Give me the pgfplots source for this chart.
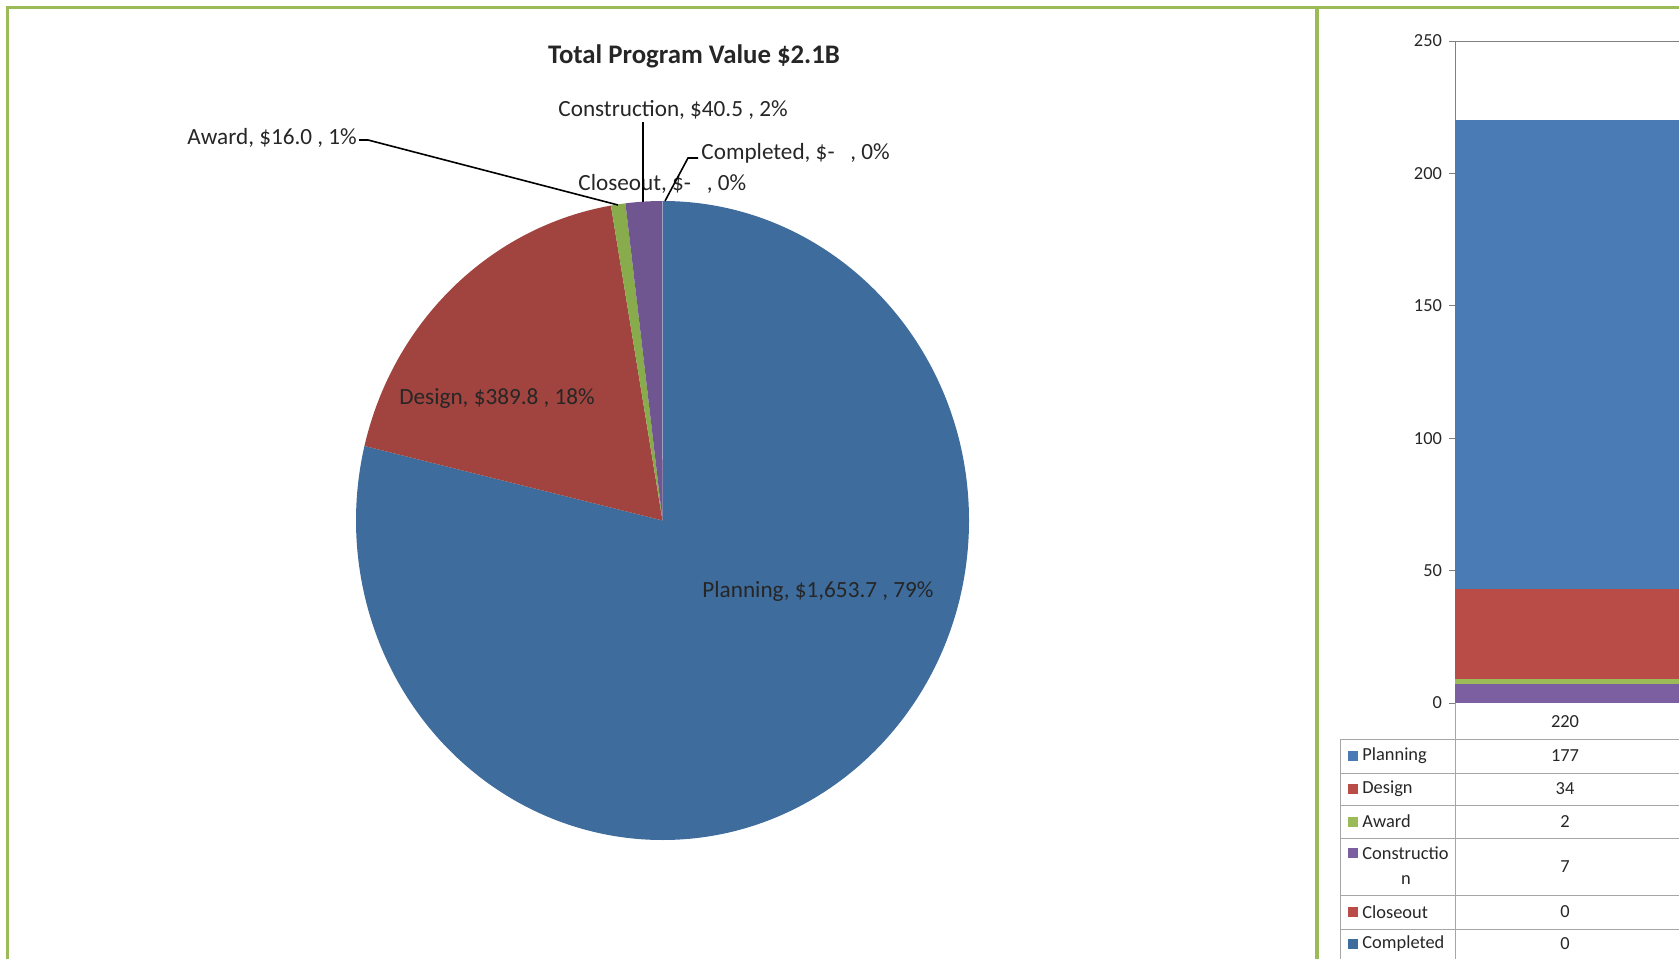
\documentclass[border=0pt]{standalone}
\usepackage{pgfplots}
\pgfplotsset{compat=1.18}
\usepackage{fontspec}
\setmainfont{Carlito}
\definecolor{frameG}{HTML}{9BBB59}
\definecolor{pieBlue}{HTML}{3E6C9D}
\definecolor{pieRed}{HTML}{A1443F}
\definecolor{pieGreen}{HTML}{88AC4C}
\definecolor{piePurple}{HTML}{6F5691}
\definecolor{barBlue}{HTML}{4A7BB5}
\definecolor{barRed}{HTML}{BA4C48}
\definecolor{barGreen}{HTML}{9BBB59}
\definecolor{barPurple}{HTML}{7B5FA0}
\definecolor{txt}{HTML}{262626}
\definecolor{gridG}{HTML}{A6A6A6}
\begin{document}
\begin{tikzpicture}
\path[use as bounding box] (0pt,0pt) rectangle (839.5pt,479.5pt);
% pie data (values in $M)
\def\vPlan{1653.7}\def\vDes{389.8}\def\vAw{16.0}\def\vCon{40.5}\def\vClo{0}\def\vComp{0}
\pgfmathsetmacro{\tot}{\vPlan+\vDes+\vAw+\vCon+\vClo+\vComp}
\pgfmathsetmacro{\aA}{90}
\pgfmathsetmacro{\aB}{\aA-360*(\vPlan/\tot)}
\pgfmathsetmacro{\aC}{\aB-360*(\vDes/\tot)}
\pgfmathsetmacro{\aD}{\aC-360*(\vAw/\tot)}
\pgfmathsetmacro{\aE}{\aD-360*(\vCon/\tot)}
% pie
\begin{axis}[at={(331.25pt,219.25pt)},anchor=center,x=0.5pt,y=0.5pt,
  xmin=-320,xmax=320,ymin=-330,ymax=330,hide axis,clip=false]
\fill[pieBlue] (axis cs:0,0) -- (axis cs:{306.5*cos(\aA)},{319.5*sin(\aA)})
  arc[start angle=\aA,end angle=\aB,x radius=153.25pt,y radius=159.75pt] -- cycle;
\fill[pieRed] (axis cs:0,0) -- (axis cs:{306.5*cos(\aB)},{319.5*sin(\aB)})
  arc[start angle=\aB,end angle=\aC,x radius=153.25pt,y radius=159.75pt] -- cycle;
\fill[pieGreen] (axis cs:0,0) -- (axis cs:{306.5*cos(\aC)},{319.5*sin(\aC)})
  arc[start angle=\aC,end angle=\aD,x radius=153.25pt,y radius=159.75pt] -- cycle;
\fill[piePurple] (axis cs:0,0) -- (axis cs:{306.5*cos(\aD)},{319.5*sin(\aD)})
  arc[start angle=\aD,end angle=\aE,x radius=153.25pt,y radius=159.75pt] -- cycle;
\end{axis}
% right panel: stacked column
\begin{axis}[at={(727.5pt,128pt)},anchor=south west,scale only axis,
  width=122.5pt,height=331pt,xmin=0,xmax=1,ymin=0,ymax=250,enlargelimits=false,
  axis y line*=left,axis x line*=top,xtick=\empty,ytick={0,50,...,250},
  tick align=outside,major tick length=3pt,
  axis line style={draw=gray,-},every tick/.style={gray},
  tick label style={font=\fontsize{9.2}{11}\selectfont,text=txt},
  /pgf/number format/assume math mode=true,
  ybar stacked,bar width=1,clip=false]
\addplot[fill=pieBlue,draw=none] coordinates {(0.5,0)};
\addplot[fill=barRed,draw=none] coordinates {(0.5,0)};
\addplot[fill=barPurple,draw=none] coordinates {(0.5,7)};
\addplot[fill=barGreen,draw=none] coordinates {(0.5,2)};
\addplot[fill=barRed,draw=none] coordinates {(0.5,34)};
\addplot[fill=barBlue,draw=none] coordinates {(0.5,177)};
\end{axis}
\begin{scope}[x=0.5pt,y=0.5pt]
% frame
\draw[frameG,line width=1.75pt] (7.5,0) -- (7.5,951.5) -- (1679,951.5);
\draw[frameG,line width=2.2pt] (1317,0) -- (1317,951.5);
% pie labels
\begin{scope}[every node/.style={text=txt,font=\fontsize{11.6}{14}\selectfont,inner sep=0pt}]
\node[font=\bfseries\fontsize{13.4}{16}\selectfont] at (694,903) {Total Program Value \$2.1B};
\node[anchor=west] at (187,821) {Award,\ \$16.0 , 1\%};
\node[anchor=west] at (558,849) {Construction,\ \$40.5 , 2\%};
\node[anchor=west] at (701,806) {Completed,\ \$-\ \ \ , 0\%};
\node[anchor=west] at (578,775) {Closeout,\ \$-\ \ \ , 0\%};
\node[anchor=west] at (399,560) {Design,\ \$389.8 , 18\%};
\node[anchor=west] at (702,368) {Planning,\ \$1,653.7 , 79\%};
\end{scope}
\draw[black,line width=0.8pt] (359,819) -- (368,819) -- (618,754);
\draw[black,line width=0.8pt] (643,837) -- (643,757);
\draw[black,line width=0.8pt] (698,801) -- (688,801) -- (665,758);
% data table
\begin{scope}[gridG,line width=0.5pt]
\draw (1455,256) -- (1455,0);
\draw (1340,220) -- (1340,0);
\foreach \yy in {220,186,154,121,64,30} {\draw (1340,\yy) -- (1679,\yy);}
\end{scope}
\begin{scope}[every node/.style={text=txt,font=\fontsize{9.2}{11}\selectfont,inner sep=0pt}]
\node at (1565,237) {220};
\node at (1565,203) {177};
\node at (1565,170) {34};
\node at (1565,137.5) {2};
\node at (1565,92.5) {7};
\node at (1565,47) {0};
\node at (1565,15) {0};
\fill[barBlue] (1348,198) rectangle (1358,208);
\node[anchor=west] at (1362,203) {Planning};
\fill[barRed] (1348,165) rectangle (1358,175);
\node[anchor=west] at (1362,170) {Design};
\fill[barGreen] (1348,132.5) rectangle (1358,142.5);
\node[anchor=west] at (1362,137.5) {Award};
\fill[barPurple] (1348,101) rectangle (1358,111);
\node[anchor=west] at (1362,106) {Constructio};
\node at (1406,79) {n};
\fill[barRed] (1348,42) rectangle (1358,52);
\node[anchor=west] at (1362,47) {Closeout};
\fill[pieBlue] (1348,10) rectangle (1358,20);
\node[anchor=west] at (1362,15) {Completed};
\end{scope}
\end{scope}
\end{tikzpicture}
\end{document}
